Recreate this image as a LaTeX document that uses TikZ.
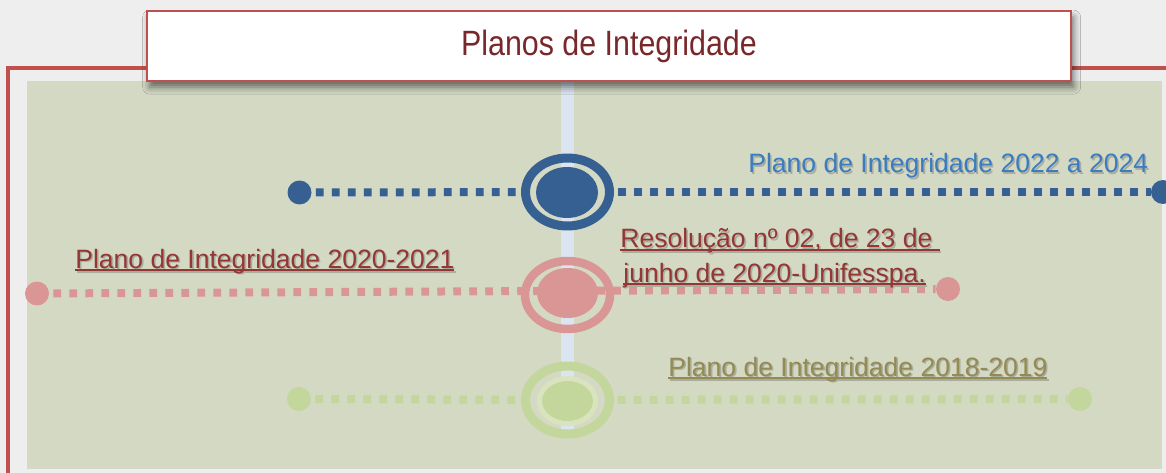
\documentclass[tikz,border=0pt]{standalone}
\usepackage{graphicx}
\usepackage{fontspec}
\setmainfont{Liberation Sans}
\usetikzlibrary{shapes.geometric,shadows.blur}
\definecolor{bgc}{HTML}{EEEEEE}
\definecolor{panelc}{HTML}{D4D9C4}
\definecolor{framec}{HTML}{C0504D}
\definecolor{ttlc}{HTML}{78282A}
\definecolor{barc}{HTML}{DBE5F1}
\definecolor{bluec}{HTML}{366092}
\definecolor{bluetxt}{HTML}{3B7CC0}
\definecolor{pinkc}{HTML}{DA9694}
\definecolor{dredc}{HTML}{943634}
\definecolor{greenc}{HTML}{C3D69B}
\definecolor{lgreenc}{HTML}{D9E4BE}
\definecolor{olivec}{HTML}{948A54}
\definecolor{tshadow}{HTML}{A9AD9E}
\newcommand\ultxt[1]{\setbox0=\hbox{#1}\rlap{\rule[-0.13em]{\wd0}{0.075em}}\box0}
\newcommand\shtxt[2]{\leavevmode\rlap{\kern0.06em\raisebox{-0.06em}{\color{tshadow}#2}}{\color{#1}#2}}
\begin{document}
\begin{tikzpicture}[x=0.02cm,y=-0.02cm,
  dotnode/.style={circle, inner sep=0pt, minimum size=0.48cm},
  ringnode/.style={ellipse, inner sep=0pt, minimum width=1.68cm, minimum height=1.36cm, line width=0.18cm},
  corenode/.style={ellipse, inner sep=0pt},
  dashln/.style={line width=0.16cm, dash pattern=on 0.155cm off 0.165cm, dash phase=0.24cm},
  lbl/.style={anchor=base west, inner sep=0pt, font=\fontsize{15.1}{19.4}\selectfont},
  titlebox/.style={rectangle, fill=white, draw=framec, line width=0.04cm,
    minimum width=18.48cm, minimum height=1.40cm, inner sep=0pt,
    font=\fontsize{20}{24}\selectfont, text=ttlc,
    blur shadow={shadow xshift=1.5pt, shadow yshift=-3.5pt, shadow blur radius=4pt, shadow opacity=55}}
]
\useasboundingbox (0,0) rectangle (1166,473);
\fill[bgc] (0,0) rectangle (1166,473);
% outer frame
\draw[framec, line width=0.07cm] (8,475) -- (8,68) -- (1170,68);
% panel
\fill[panelc] (27,81) rectangle (1162,469);
% vertical bar
\fill[barc] (561,81) rectangle (574,430);
% title
\node[titlebox] (title) at (609,46) {\scalebox{0.865}[1]{Planos de Integridade}};

% blue timeline
\node[ringnode, draw=bluec] (bc) at (567.5,192) {};
\node[corenode, fill=bluec, minimum width=1.24cm, minimum height=1.02cm] (bci) at (567,192.5) {};
\node[dotnode, fill=bluec] (bl) at (299.5,192.5) {};
\node[dotnode, fill=bluec] (br) at (1163,192) {};
\draw[dashln, bluec] (bl) -- (bc);
\draw[dashln, bluec] (bc) -- (br);

% pink timeline
\node[ringnode, draw=pinkc, line width=0.17cm, minimum width=1.70cm] (pc) at (567.5,295) {};
\node[corenode, fill=pinkc, minimum width=1.22cm, minimum height=1.0cm] (pci) at (567.5,293) {};
\node[dotnode, fill=pinkc] (pl) at (37,293.5) {};
\node[dotnode, fill=pinkc] (pr) at (948,289) {};
\draw[dashln, pinkc] (pl) -- (pr);

% green timeline
\node[ringnode, draw=greenc] (gc) at (567.5,400) {};
\node[corenode, fill=greenc, draw=lgreenc, line width=0.1cm, minimum width=1.12cm, minimum height=0.9cm] (gci) at (567.5,401) {};
\node[dotnode, fill=greenc] (gl) at (299,399) {};
\node[dotnode, fill=greenc] (gr) at (1080,399) {};
\draw[dashln, greenc] (gl) -- (gc);
\draw[dashln, greenc] (gc) -- (gr);

% labels
\node[lbl] (lblue) at (748,173) {\shtxt{bluetxt}{Plano de Integridade 2022 a 2024}};
\node[lbl] (lpink) at (75,268) {\shtxt{dredc}{\ultxt{Plano de Integridade 2020-2021}}};
\node[lbl] (lres1) at (620,247.5) {\shtxt{dredc}{\ultxt{Resolução nº 02, de 23 de }}};
\node[lbl] (lres2) at (623,282) {\shtxt{dredc}{\ultxt{junho de 2020-Unifesspa.}}};
\node[lbl] (lgreen) at (668,376) {\shtxt{olivec}{\ultxt{Plano de Integridade 2018-2019}}};
\end{tikzpicture}
\end{document}
